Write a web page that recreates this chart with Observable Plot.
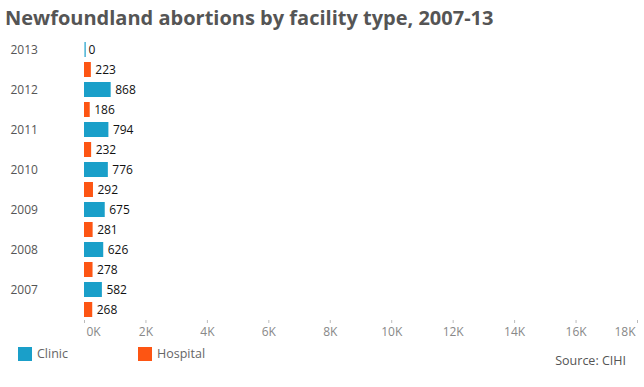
<!DOCTYPE html>
<html>
<head>
<meta charset="utf-8">
<script src="https://cdn.jsdelivr.net/npm/d3@7"></script>
<script src="https://cdn.jsdelivr.net/npm/@observablehq/plot@0.6"></script>
<style>
  html, body { margin: 0; padding: 0; background: #fff; }
  #wrap { position: relative; width: 644px; height: 387px; font-family: "Open Sans", sans-serif; overflow: hidden; }
  #title { position: absolute; left: 5px; top: 4px; font-size: 20px; font-weight: bold; color: #555; white-space: nowrap; }
  #chart { position: absolute; left: 0; top: 35px; }
  #legend { position: absolute; left: 18px; top: 345px; display: flex; font-size: 12.5px; color: #666; }
  .item { display: flex; align-items: center; width: 120px; }
  .sw { width: 14px; height: 14px; margin-right: 5px; }
  #source { position: absolute; right: 18px; top: 352px; font-size: 12.5px; color: #555; }
</style>
</head>
<body>
<div id="wrap">
  <div id="title">Newfoundland abortions by facility type, 2007-13</div>
  <div id="chart"></div>
  <div id="legend"></div>
  <div id="source">Source: CIHI</div>
</div>
<script>
const years = [2013, 2012, 2011, 2010, 2009, 2008, 2007];
const clinic = [0, 868, 794, 776, 675, 626, 582];
const hospital = [223, 186, 232, 292, 281, 278, 268];
const types = ["Clinic", "Hospital"];
const colors = ["#1a9fc9", "#fd5513"];
const xTicks = [0, 2000, 4000, 6000, 8000, 10000, 12000, 14000, 16000, 18000];

const rows = [];
years.forEach((y, i) => {
  rows.push({year: y, type: "Clinic", value: clinic[i], key: `${y}-Clinic`});
  rows.push({year: y, type: "Hospital", value: hospital[i], key: `${y}-Hospital`});
});
const fmt = d => `${d / 1000}K`;
const font = "'Open Sans', sans-serif";

const chart = Plot.plot({
  width: 644,
  height: 310,
  marginLeft: 84,
  marginRight: 7,
  marginTop: 4,
  marginBottom: 25,
  style: {fontFamily: font, fontSize: "12px", background: "transparent"},
  x: {domain: [0, 18000], axis: null},
  y: {domain: rows.map(d => d.key), axis: null, paddingInner: 0.27, paddingOuter: 0.1},
  color: {domain: types, range: colors},
  marks: [
    Plot.barX(rows, {x: "value", y: "key", fill: "type"}),
    Plot.tickX(rows.filter(d => d.value === 0), {x: "value", y: "key", stroke: "type", strokeWidth: 1.2, dx: 0.6}),
    Plot.text(rows, {x: "value", y: "key", text: d => String(d.value), textAnchor: "start", dx: 4, fill: "#111", fontSize: 12}),
    Plot.text(years, {y: d => `${d}-Clinic`, text: d => String(d), frameAnchor: "left", textAnchor: "start", dx: -74, fill: "#555", fontSize: 12}),
    Plot.axisX({ticks: xTicks, tickSize: 3, stroke: "#bbb", tickFormat: () => "", label: null}),
    Plot.text(xTicks.slice(1, -1), {x: d => d, text: fmt, frameAnchor: "bottom", lineAnchor: "top", dy: 7, fill: "#888", fontSize: 12}),
    Plot.text(xTicks.slice(0, 1), {x: d => d, text: fmt, frameAnchor: "bottom", lineAnchor: "top", dy: 7, dx: 2, textAnchor: "start", fill: "#888", fontSize: 12}),
    Plot.text(xTicks.slice(-1), {x: d => d, text: fmt, frameAnchor: "bottom", lineAnchor: "top", dy: 7, dx: -2, textAnchor: "end", fill: "#888", fontSize: 12})
  ]
});
document.getElementById("chart").appendChild(chart);

const legend = document.getElementById("legend");
types.forEach((t, i) => {
  const item = document.createElement("div");
  item.className = "item";
  const sw = document.createElement("div");
  sw.className = "sw";
  sw.style.background = colors[i];
  const lab = document.createElement("span");
  lab.textContent = t;
  item.appendChild(sw);
  item.appendChild(lab);
  legend.appendChild(item);
});
</script>
</body>
</html>
